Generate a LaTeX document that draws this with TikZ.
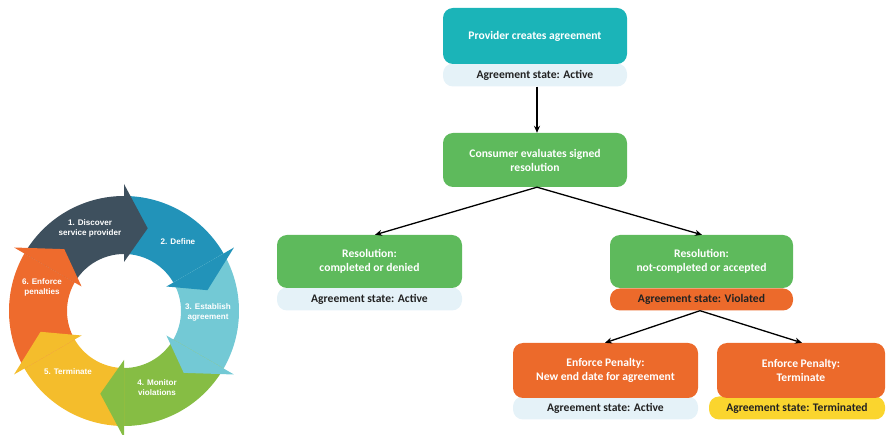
\documentclass[tikz,border=0pt]{standalone}
\usepackage{fontspec}
\setmainfont{Carlito}
\newfontfamily\ringfont{Liberation Sans}
\usetikzlibrary{arrows.meta}

\definecolor{cTeal}{HTML}{1BB4B8}
\definecolor{cGreen}{HTML}{5EBA5C}
\definecolor{cOrange}{HTML}{EC6A2B}
\definecolor{cPale}{HTML}{E5F2F8}
\definecolor{cYellow}{HTML}{FAD52E}
\definecolor{cText}{HTML}{222222}
% cycle colours
\definecolor{rDark}{HTML}{3E505E}
\definecolor{rBlue}{HTML}{2293B9}
\definecolor{rLight}{HTML}{73C9D5}
\definecolor{rGreen}{HTML}{86BD44}
\definecolor{rYellow}{HTML}{F4BD2C}
\definecolor{rOrange}{HTML}{EE6B2D}

\tikzset{
  stepbox/.style={rounded corners=10pt, inner sep=0pt, align=center,
    text=white, font=\fontsize{11.6}{14}\selectfont\bfseries},
  statepill/.style={rounded corners=10pt, inner sep=0pt, align=center,
    text=cText, font=\fontsize{11.6}{14}\selectfont\bfseries},
  flow/.style={-{Stealth[length=7pt,width=6pt]}, line width=1.3pt, black},
  ringtext/.style={text=white, align=center,
    font=\ringfont\fontsize{8.1}{10}\selectfont\bfseries}
}

\begin{document}
\begin{tikzpicture}[x=1pt,y=1pt]
\useasboundingbox (0,0) rectangle (887,-435);

% ---------- service lifecycle ring ----------
\begin{scope}[shift={(124,-311)}]
  \foreach \k/\col in {1/rDark,2/rBlue,3/rLight,4/rGreen,5/rYellow,6/rOrange}{
    \pgfmathsetmacro{\ta}{210-60*\k}
    \pgfmathsetmacro{\tb}{\ta-60}
    \fill[\col] (\ta:115) arc[start angle=\ta, end angle=\tb, radius=115]
      -- (\tb:57) arc[start angle=\tb, end angle=\ta, radius=57] -- cycle;
  }
  \foreach \k/\col in {1/rDark,2/rBlue,3/rLight,4/rGreen,5/rYellow,6/rOrange}{
    \pgfmathsetmacro{\tb}{150-60*\k}
    \pgfmathsetmacro{\tt}{\tb-16}
    \fill[\col] (\tb:127) -- (\tt:86) -- (\tb:49) -- cycle;
  }
\end{scope}
\node[ringtext] (r1) at (90,-228) {1. Discover\\service provider};
\node[ringtext] (r2) at (178,-242) {2. Define};
\node[ringtext] (r3) at (208,-312) {3. Establish\\agreement};
\node[ringtext] (r4) at (157,-388) {4. Monitor\\violations};
\node[ringtext] (r5) at (68,-372) {5. Terminate};
\node[ringtext] (r6) at (42,-287) {6. Enforce\\penalties};

% ---------- state pills (drawn first, boxes sit on top) ----------
\node[statepill, fill=cPale, minimum width=184pt, minimum height=23pt] (s0) at (535,-75) {Agreement state: Active};
\node[statepill, fill=cPale, minimum width=185pt, minimum height=23pt] (s1) at (369.5,-299) {Agreement state: Active};
\node[statepill, fill=cOrange, minimum width=183pt, minimum height=22pt] (s2) at (701.5,-299.5) {Agreement state: Violated};
\node[statepill, fill=cPale, minimum width=185pt, minimum height=23pt] (s3) at (605.5,-408) {Agreement state: Active};
\node[statepill, fill=cYellow, minimum width=176pt, minimum height=23pt] (s4) at (797,-408) {Agreement state: Terminated};

% ---------- process boxes ----------
\node[stepbox, fill=cTeal, minimum width=184pt, minimum height=56pt] (b0) at (535,-36) {Provider creates agreement};
\node[stepbox, fill=cGreen, minimum width=184pt, minimum height=54pt] (b1) at (535,-160) {Consumer evaluates signed\\resolution};
\node[stepbox, fill=cGreen, minimum width=185pt, minimum height=53pt] (b2) at (369.5,-261.5) {Resolution:\\completed or denied};
\node[stepbox, fill=cGreen, minimum width=183pt, minimum height=53pt] (b3) at (701.5,-261.5) {Resolution:\\not-completed or accepted};
\node[stepbox, fill=cOrange, minimum width=185pt, minimum height=55pt] (b4) at (605.5,-370.5) {Enforce Penalty:\\New end date for agreement};
\node[stepbox, fill=cOrange, minimum width=168pt, minimum height=55pt] (b5) at (801,-370.5) {Enforce Penalty:\\Terminate};

% ---------- connectors ----------
\draw[flow] ([xshift=2pt]s0.south) -- ([xshift=2pt]b1.north);
\draw[flow] ([xshift=2pt]b1.south) -- ([xshift=5.5pt]b2.north);
\draw[flow] ([xshift=2pt]b1.south) -- ([xshift=0.5pt]b3.north);
\draw[flow] ([xshift=-1.5pt]s2.south) -- ([xshift=-0.5pt]b4.north);
\draw[flow] ([xshift=-1.5pt]s2.south) -- ([xshift=1pt]b5.north);
\end{tikzpicture}
\end{document}
